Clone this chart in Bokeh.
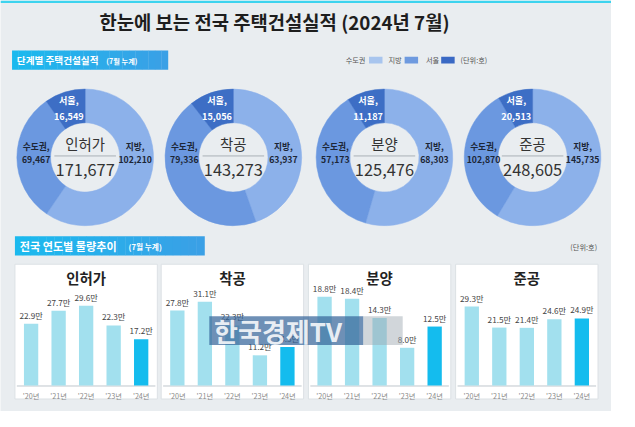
from bokeh.plotting import figure
from bokeh.models import Range1d
from bokeh.core.properties import value
from bokeh.embed import file_html
from bokeh.resources import INLINE
import math

# ---------------- data ----------------
stages = ["인허가", "착공", "분양", "준공"]
metro = [69467, 79336, 57173, 102870]      # 수도권 (서울 포함)
local = [102210, 63937, 68303, 145735]     # 지방
seoul = [16549, 15056, 11187, 20513]       # 서울
totals = [171677, 143273, 125476, 248605]

years = ["'20년", "'21년", "'22년", "'23년", "'24년"]
permit = [22.9, 27.7, 29.6, 22.3, 17.2]
start = [27.8, 31.1, 22.3, 11.2, 14.3]
presale = [18.8, 18.4, 14.3, 8.0, 12.5]
complete = [29.3, 21.5, 21.4, 24.6, 24.9]
series = [permit, start, presale, complete]
y_max = [35, 35, 20, 35]

# ---------------- canvas ----------------
W0, H0 = 635, 427
S = 411 / 427
FONT = value("Noto Sans CJK KR")
BG = "#E9EDF0"


def Y(y):
    return H0 - y


def fs(px):
    return f"{px * S:.1f}px"


p = figure(width=round(W0 * S), height=411, x_range=Range1d(0, W0), y_range=Range1d(0, H0),
           output_backend="svg", toolbar_location=None, min_border=0)
p.axis.visible = False
p.grid.visible = False
p.outline_line_color = None
p.background_fill_color = BG
p.border_fill_color = BG

# top stripe
p.quad(left=0, right=W0, bottom=Y(2.5), top=Y(0), fill_color="#3DD3EE", line_color=None)

# title
p.text(x=[287], y=[Y(22)], text=["한눈에 보는 전국 주택건설실적  (2024년 7월)"],
       text_font=FONT, text_font_style="bold", text_font_size=fs(19.5), text_color="#1E1E1E",
       text_align="center", text_baseline="middle")


def header(x0, x1, y0, y1, title, sub, sub_x, size, sub_size):
    n = 24
    c0 = (0x1B, 0xB9, 0xEE)
    c1 = (0x3A, 0xA0, 0xE6)
    for k in range(n):
        t = k / (n - 1)
        c = "#%02x%02x%02x" % tuple(round(a + (b - a) * t) for a, b in zip(c0, c1))
        xa = x0 + (x1 - x0) * k / n
        xb = x0 + (x1 - x0) * (k + 1) / n + 0.3
        p.quad(left=xa, right=xb, bottom=Y(y1), top=Y(y0), fill_color=c, line_color=None)
    p.text(x=[x0 + 5], y=[Y((y0 + y1) / 2)], text=[title], text_font=FONT, text_font_style="bold",
           text_font_size=fs(size), text_color="white", text_align="left", text_baseline="middle")
    p.text(x=[sub_x], y=[Y((y0 + y1) / 2 + 0.5)], text=[sub], text_font=FONT, text_font_style="bold",
           text_font_size=fs(sub_size), text_color="white", text_align="left", text_baseline="middle")


header(12, 174, 52, 72, "단계별 주택건설실적", "(7월 누계)", 110, 10, 7.5)
header(15, 212, 245, 265, "전국 연도별 물량추이", "(7월 누계)", 133, 11.5, 8)

# legend
C_METRO_LEG, C_LOCAL_LEG, C_SEOUL_LEG = "#A8C5EE", "#6E9ADF", "#3A69C4"
leg = [("수도권", 369, C_METRO_LEG, 383), ("지방", 410, C_LOCAL_LEG, 420), ("서울", 449, C_SEOUL_LEG, 458)]
for name, tx, col, sx in leg:
    p.text(x=[tx], y=[Y(62)], text=[name], text_font=FONT, text_font_size=fs(7.5), text_color="#555555",
           text_align="center", text_baseline="middle")
    p.quad(left=sx, right=sx + 14, bottom=Y(65.5), top=Y(58.5), fill_color=col, line_color=None)
p.text(x=[492], y=[Y(62)], text=["(단위:호)"], text_font=FONT, text_font_size=fs(7.5), text_color="#555555",
       text_align="center", text_baseline="middle")
p.text(x=[620], y=[Y(256)], text=["(단위:호)"], text_font=FONT, text_font_size=fs(7.5), text_color="#555555",
       text_align="right", text_baseline="middle")

# ---------------- donuts ----------------
C_LOCAL, C_METRO, C_SEOUL = "#8CB1EA", "#6B98E0", "#3D6EC5"
centers = [88, 242, 399, 553]
CY = 163
R_OUT, R_IN = 71, 36
for i, cx in enumerate(centers):
    parts = [local[i], metro[i] - seoul[i], seoul[i]]
    cols = [C_LOCAL, C_METRO, C_SEOUL]
    cum = 0
    for v, c in zip(parts, cols):
        a0 = math.pi / 2 - 2 * math.pi * cum / totals[i]
        cum += v
        a1 = math.pi / 2 - 2 * math.pi * cum / totals[i]
        p.annular_wedge(x=cx, y=Y(CY), inner_radius=R_IN, outer_radius=R_OUT, start_angle=a0, end_angle=a1,
                        direction="clock", fill_color=c, line_color=c, line_width=0.5)
    # center
    p.text(x=[cx], y=[Y(149)], text=[stages[i]], text_font=FONT, text_font_size=fs(15),
           text_color="#333333", text_align="center", text_baseline="middle")
    p.segment(x0=cx - 32, x1=cx + 32, y0=Y(161.5), y1=Y(161.5), line_color="#A9B0B7", line_width=1)
    p.text(x=[cx], y=[Y(176)], text=[f"{totals[i]:,}"], text_font=FONT, text_font_size=fs(17),
           text_color="#333333", text_align="center", text_baseline="middle")
    # labels
    p.text(x=[cx - 17, cx - 17], y=[Y(103), Y(121)], text=["서울,", f"{seoul[i]:,}"], text_font=FONT,
           text_font_style="bold", text_font_size=fs(9.5), text_color="white",
           text_align="center", text_baseline="middle")
    p.text(x=[cx - 51, cx - 51], y=[Y(152), Y(165)], text=["수도권,", f"{metro[i]:,}"], text_font=FONT,
           text_font_style="bold", text_font_size=fs(9), text_color="#1C2636",
           text_align="center", text_baseline="middle")
    p.text(x=[cx + 52, cx + 52], y=[Y(152), Y(165)], text=["지방,", f"{local[i]:,}"], text_font=FONT,
           text_font_style="bold", text_font_size=fs(9), text_color="#1C2636",
           text_align="center", text_baseline="middle")

# ---------------- bar panels ----------------
panel_left = [15, 167, 320, 473]
PW = 148
C_BAR, C_BAR_NOW = "#A2E0EE", "#14BCEE"
xpos = [i + 0.5 for i in range(len(years))]
for k, pl in enumerate(panel_left):
    p.quad(left=pl, right=pl + PW, bottom=Y(414), top=Y(274), fill_color="white",
           line_color="#DCE1E5", line_width=1)
    p.text(x=[pl + PW / 2], y=[Y(288)], text=[stages[k]], text_font=FONT, text_font_style="bold",
           text_font_size=fs(15), text_color="#222222", text_align="center", text_baseline="middle")
    p.segment(x0=pl + 2, x1=pl + 146, y0=Y(400.5), y1=Y(400.5), line_color="#BFC6CC", line_width=1)
    sp = p.subplot(x_source=Range1d(0, len(years)), x_target=Range1d(pl + 2.5, pl + 145.5),
                   y_source=Range1d(0, y_max[k]), y_target=Range1d(Y(400), Y(302)))
    vals = series[k]
    cols = [C_BAR] * (len(vals) - 1) + [C_BAR_NOW]
    sp.vbar(x=xpos, top=vals, bottom=0, width=0.52, fill_color=cols, line_color=None)
    sp.text(x=xpos, y=vals, text=[f"{v:.1f}만" for v in vals], y_offset=-3, text_font=FONT,
            text_font_size=fs(8.5), text_color="#444444", text_align="center", text_baseline="bottom")
    sp.text(x=xpos, y=[0] * len(years), text=years, y_offset=5, text_font=FONT,
            text_font_size=fs(7.5), text_color="#8A8A8A", text_align="center", text_baseline="top")

# watermark
p.quad(left=217, right=377, bottom=Y(358), top=Y(328), fill_color="#36659A", fill_alpha=0.72, line_color=None)
p.quad(left=377, right=418, bottom=Y(358), top=Y(328), fill_color="#9AA3AC", fill_alpha=0.45, line_color=None)
p.text(x=[222], y=[Y(343)], text=["한국경제TV"], text_font=FONT, text_font_style="bold", text_font_size=fs(27),
       text_color="white", text_alpha=0.85, text_align="left", text_baseline="middle")

open("out.html", "w").write(file_html(p, INLINE))
